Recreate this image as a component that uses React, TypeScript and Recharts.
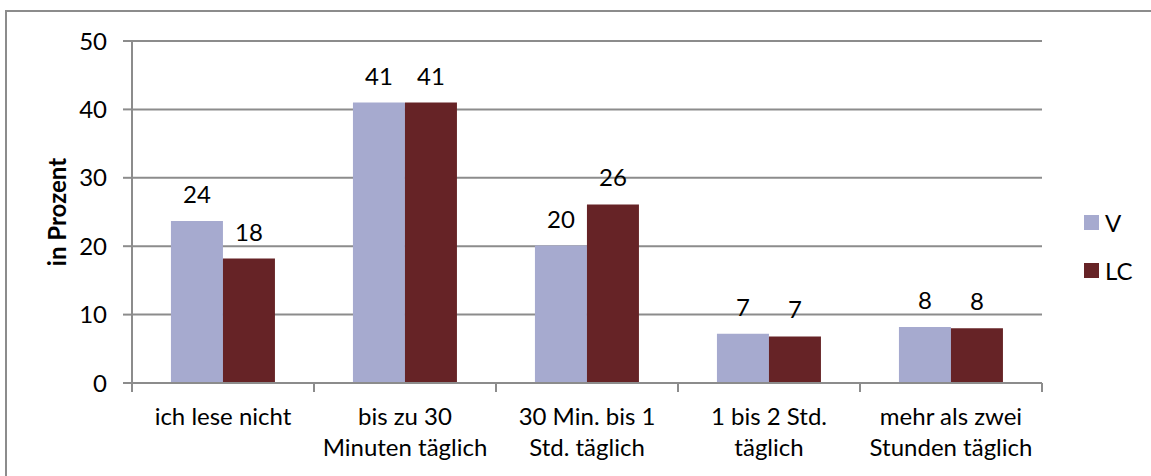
import React from "react";
import { BarChart, Bar, XAxis, YAxis, CartesianGrid, Legend, LabelList } from "recharts";

// Reading time per day, share of respondents in percent
const categories = [
  "ich lese nicht",
  "bis zu 30\nMinuten täglich",
  "30 Min. bis 1\nStd. täglich",
  "1 bis 2 Std.\ntäglich",
  "mehr als zwei\nStunden täglich",
];
const seriesNames = ["V", "LC"];
const valuesV = [23.7, 41.0, 20.1, 7.2, 8.2];
const valuesLC = [18.2, 41.0, 26.1, 6.8, 8.0];
const yTicks = [0, 10, 20, 30, 40, 50];

const data = categories.map((category, i) => ({
  category,
  V: valuesV[i],
  LC: valuesLC[i],
}));

const FONT = "Lato, 'DejaVu Sans', sans-serif";
const GRID = "#8c8c8c";
const COLOR_V = "#a6aacf";
const COLOR_LC = "#662326";
const FONT_SIZE = 24;

// Category label with tick marks on the category boundaries
function CategoryTick(props: any) {
  const { x, y, payload, index } = props;
  const half = payload && typeof payload.offset === "number" ? payload.offset : 0;
  const lines = String(payload.value).split("\n");
  const last = index === categories.length - 1;
  return (
    <g>
      <line x1={x - half} x2={x - half} y1={y} y2={y + 9} stroke={GRID} strokeWidth={2} />
      {last && <line x1={x + half} x2={x + half} y1={y} y2={y + 9} stroke={GRID} strokeWidth={2} />}
      <text textAnchor="middle" fill="#000" fontFamily={FONT} fontSize={FONT_SIZE}>
        {lines.map((line, i) => (
          <tspan key={i} x={x} y={y + 42 + i * 31}>
            {line}
          </tspan>
        ))}
      </text>
    </g>
  );
}

function LegendContent(props: any) {
  const items = [...(props.payload || [])].sort(
    (a: any, b: any) => seriesNames.indexOf(a.value) - seriesNames.indexOf(b.value)
  );
  return (
    <div style={{ fontFamily: FONT, fontSize: FONT_SIZE, color: "#000" }}>
      {items.map((entry: any) => (
        <div key={entry.value} style={{ display: "flex", alignItems: "center", height: 48 }}>
          <span style={{ display: "inline-block", width: 15, height: 15, background: entry.color, marginRight: 6 }} />
          <span>{entry.value}</span>
        </div>
      ))}
    </div>
  );
}

const roundLabel = (v: any) => Math.round(Number(v));

export default function App() {
  return (
    <div style={{ position: "absolute", left: 0, top: 0, width: 1151, height: 476, background: "#fff", overflow: "hidden" }}>
      <div
        style={{
          position: "absolute",
          left: 5,
          top: 10,
          width: 1200,
          height: 500,
          borderLeft: `2px solid ${GRID}`,
          borderTop: `2px solid ${GRID}`,
        }}
      />
      <div style={{ position: "absolute", left: 0, top: 0 }}>
        <BarChart
          width={1151}
          height={476}
          data={data}
          margin={{ top: 41, right: 109, bottom: 0, left: 0 }}
          barCategoryGap="21.4%"
          barGap={0}
        >
          <CartesianGrid vertical={false} stroke={GRID} strokeWidth={2} />
          <XAxis
            dataKey="category"
            height={93}
            interval={0}
            tickLine={false}
            tickSize={0}
            tickMargin={0}
            axisLine={{ stroke: GRID, strokeWidth: 2 }}
            tick={<CategoryTick />}
          />
          <YAxis
            width={132}
            domain={[0, 50]}
            ticks={yTicks}
            interval={0}
            tickSize={9}
            tickMargin={16}
            axisLine={{ stroke: GRID, strokeWidth: 2 }}
            tickLine={{ stroke: GRID, strokeWidth: 2 }}
            tick={{ fill: "#000", fontSize: FONT_SIZE, fontFamily: FONT }}
            label={{
              value: "in Prozent",
              angle: -90,
              position: "center",
              dx: -9,
              fill: "#000",
              fontSize: FONT_SIZE,
              fontWeight: "bold",
              fontFamily: FONT,
            }}
          />
          <Legend
            layout="vertical"
            align="center"
            verticalAlign="middle"
            content={<LegendContent />}
            wrapperStyle={{ left: 1084, top: 198, width: 60, height: 96 }}
          />
          <Bar dataKey="V" name="V" fill={COLOR_V} isAnimationActive={false}>
            <LabelList dataKey="V" position="top" offset={18} formatter={roundLabel} fill="#000" fontSize={FONT_SIZE} fontFamily={FONT} />
          </Bar>
          <Bar dataKey="LC" name="LC" fill={COLOR_LC} isAnimationActive={false}>
            <LabelList dataKey="LC" position="top" offset={18} formatter={roundLabel} fill="#000" fontSize={FONT_SIZE} fontFamily={FONT} />
          </Bar>
        </BarChart>
      </div>
    </div>
  );
}
